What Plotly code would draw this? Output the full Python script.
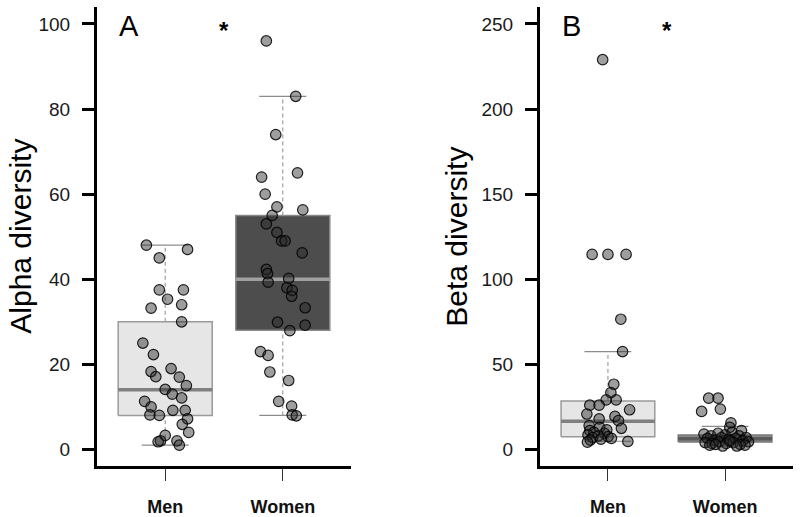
import plotly.graph_objects as go

groups = ["Men", "Women"]
group_pos = [1, 2]

# ---- Panel A: alpha diversity (jitter offset, value) ----
alpha_men_dx = [-0.16, 0.19, -0.05, -0.05, 0.155, 0.02, 0.14, -0.12, 0.14, -0.19, -0.10,
                0.05, -0.12, -0.08, 0.12, 0.18, 0.0, 0.06, 0.14, -0.175, -0.12, 0.065,
                0.17, -0.13, -0.05, 0.19, 0.145, 0.20, 0.0, -0.04, -0.06, 0.10, 0.12]
alpha_men_y = [48, 47, 45, 37.5, 37.5, 35.3, 34, 33.2, 30, 25, 22.3,
               19, 18.3, 17.1, 17, 15, 14.1, 13, 12.1, 11.3, 10, 9.2,
               9.2, 8.1, 8, 7.2, 5.9, 4, 3.3, 2, 1.8, 2, 1]
alpha_women_dx = [-0.14, 0.11, -0.06, 0.125, -0.18, -0.15, -0.05, 0.17, -0.09, -0.14, -0.05,
                  -0.01, 0.02, 0.165, -0.14, -0.13, -0.125, 0.05, 0.035, 0.08, 0.075, 0.19,
                  -0.045, 0.19, 0.06, -0.19, -0.125, -0.11, 0.05, -0.035, 0.075, 0.08, 0.115]
alpha_women_y = [96, 83, 74, 65, 64, 60, 57, 56.3, 55, 53, 51,
                 49, 49, 46.2, 42.3, 41.3, 39.3, 40.2, 38, 37.4, 36, 33.3,
                 29.9, 29.2, 27.9, 23, 22.1, 18.2, 16.2, 11.3, 10.2, 8.1, 7.9]

# ---- Panel B: beta diversity ----
beta_men_dx = [-0.045, -0.135, 0.0, 0.155, 0.11, 0.125, 0.05, 0.025, -0.015, 0.07, -0.155,
               -0.075, 0.185, -0.18, 0.06, -0.075, 0.09, -0.16, -0.07, 0.115, -0.01, -0.155,
               -0.12, -0.03, -0.17, -0.08, 0.0, -0.13, 0.03, -0.06, -0.15, 0.17, -0.175]
beta_men_y = [229, 114.6, 114.6, 114.6, 76.5, 57.5, 38.3, 33.4, 29.1, 29.1, 26,
              26, 23.3, 20.8, 19.4, 17.9, 16.9, 14, 13, 12.4, 11.5, 11.1,
              10, 9.5, 8.5, 8, 7.5, 7, 6.5, 6, 5.5, 4.7, 4.3]
beta_women_dx = [-0.14, -0.06, -0.2, -0.04, 0.05, 0.04, 0.14,
                 -0.18, -0.12, -0.06, 0.0, 0.06, 0.12, 0.18,
                 -0.15, -0.09, -0.03, 0.03, 0.09, 0.15, 0.2,
                 -0.17, -0.11, -0.05, 0.01, 0.07, 0.13, 0.17,
                 -0.13, -0.02, 0.1, -0.08, 0.04]
beta_women_y = [30.1, 30.1, 22.3, 23.7, 15.6, 13, 11.1,
                9, 8, 9.5, 8.5, 10, 8, 7,
                6.5, 5.5, 7, 6, 6.5, 5, 4.5,
                4, 3.5, 4.5, 3.5, 4, 3, 2.5,
                2.5, 2, 2, 3, 5]

# box summaries: [lower whisker, Q1, median, Q3, upper whisker]
alpha_men_box = [1, 8, 14, 30, 48]
alpha_women_box = [8, 28, 40, 55, 83]
beta_men_box = [4.8, 7.5, 16.5, 28.5, 57.5]
beta_women_box = [2, 4.3, 6.3, 8.5, 13.5]

alpha_ticks = [0, 20, 40, 60, 80, 100]
beta_ticks = [0, 50, 100, 150, 200, 250]

BOX_HALF = 0.4
CAP_HALF = 0.2

fig = go.Figure()


def add_box(xa, ya, c, stats, fill, border, medcol):
    lo, q1, med, q3, hi = stats
    common = dict(xaxis=xa, yaxis=ya, mode="lines", hoverinfo="skip", showlegend=False)
    fig.add_trace(go.Scatter(x=[c, c], y=[q3, hi], line=dict(color="#8c8c8c", width=1, dash="4px,3px"), **common))
    fig.add_trace(go.Scatter(x=[c, c], y=[lo, q1], line=dict(color="#8c8c8c", width=1, dash="4px,3px"), **common))
    fig.add_trace(go.Scatter(x=[c - CAP_HALF, c + CAP_HALF], y=[hi, hi], line=dict(color="#8c8c8c", width=1.2), **common))
    fig.add_trace(go.Scatter(x=[c - CAP_HALF, c + CAP_HALF], y=[lo, lo], line=dict(color="#8c8c8c", width=1.2), **common))
    fig.add_trace(go.Scatter(x=[c - BOX_HALF, c + BOX_HALF, c + BOX_HALF, c - BOX_HALF, c - BOX_HALF],
                             y=[q1, q1, q3, q3, q1], fill="toself", fillcolor=fill,
                             line=dict(color=border, width=1.5), **common))
    fig.add_trace(go.Scatter(x=[c - BOX_HALF, c + BOX_HALF], y=[med, med],
                             line=dict(color=medcol, width=3.5), **common))


def add_points(xa, ya, c, dx, y):
    fig.add_trace(go.Scatter(x=[c + d for d in dx], y=y, xaxis=xa, yaxis=ya, mode="markers",
                             marker=dict(size=10.5, color="rgba(40,40,40,0.45)",
                                         line=dict(color="rgba(0,0,0,0.85)", width=1.2)),
                             showlegend=False, hoverinfo="y"))


add_box("x", "y", group_pos[0], alpha_men_box, "#e6e6e6", "#9a9a9a", "#808080")
add_box("x", "y", group_pos[1], alpha_women_box, "#4d4d4d", "#8a8a8a", "#a0a0a0")
add_points("x", "y", group_pos[0], alpha_men_dx, alpha_men_y)
add_points("x", "y", group_pos[1], alpha_women_dx, alpha_women_y)

add_box("x2", "y2", group_pos[0], beta_men_box, "#e6e6e6", "#9a9a9a", "#808080")
add_box("x2", "y2", group_pos[1], beta_women_box, "#8a8a8a", "#7a7a7a", "#5a5a5a")
add_points("x2", "y2", group_pos[0], beta_men_dx, beta_men_y)
add_points("x2", "y2", group_pos[1], beta_women_dx, beta_women_y)

FONT = "Liberation Sans, Arial, sans-serif"
ydom = [46 / 517, 510 / 517]

xcommon = dict(range=[0.42, 2.58], tickvals=group_pos, ticktext=[f"<b>{g}</b>" for g in groups],
               ticks="outside", ticklen=12, tickwidth=1, tickcolor="#333333",
               showline=True, linewidth=3, linecolor="black", showgrid=False, zeroline=False,
               tickfont=dict(family=FONT, size=18, color="#111111"), ticklabelstandoff=10,
               fixedrange=True)
ycommon = dict(ticks="outside", ticklen=12, tickwidth=3, tickcolor="black",
               showline=True, linewidth=3, linecolor="black", showgrid=False, zeroline=False,
               tickfont=dict(family=FONT, size=19, color="#1a1a1a"), ticklabelstandoff=8,
               domain=ydom, fixedrange=True)

fig.update_layout(
    width=800, height=517,
    margin=dict(l=0, r=0, t=0, b=0),
    paper_bgcolor="white", plot_bgcolor="white",
    xaxis=dict(domain=[97 / 800, 351 / 800], anchor="y", **xcommon),
    yaxis=dict(range=[-4, 104], tickvals=alpha_ticks, anchor="x", **ycommon),
    xaxis2=dict(domain=[540 / 800, 793 / 800], anchor="y2", **xcommon),
    yaxis2=dict(range=[-10, 260], tickvals=beta_ticks, anchor="x2", **ycommon),
    showlegend=False,
)

ann = []
ann.append(dict(text="Alpha diversity", x=21 / 800, xref="paper", y=0.5, yref="y domain",
                textangle=-90, showarrow=False, font=dict(family=FONT, size=30, color="black"),
                xanchor="center", yanchor="middle"))
ann.append(dict(text="Beta diversity", x=457 / 800, xref="paper", y=0.5, yref="y2 domain",
                textangle=-90, showarrow=False, font=dict(family=FONT, size=30, color="black"),
                xanchor="center", yanchor="middle"))
ann.append(dict(text="A", x=0.69, xref="x", y=99.5, yref="y", showarrow=False,
                font=dict(family=FONT, size=29, color="black"), xanchor="center", yanchor="middle"))
ann.append(dict(text="B", x=0.69, xref="x2", y=248.8, yref="y2", showarrow=False,
                font=dict(family=FONT, size=29, color="black"), xanchor="center", yanchor="middle"))
ann.append(dict(text="<b>*</b>", x=1.5, xref="x", y=98.5, yref="y", showarrow=False,
                font=dict(family=FONT, size=24, color="black"), xanchor="center", yanchor="middle"))
ann.append(dict(text="<b>*</b>", x=1.5, xref="x2", y=246.2, yref="y2", showarrow=False,
                font=dict(family=FONT, size=24, color="black"), xanchor="center", yanchor="middle"))
fig.update_layout(annotations=ann)

fig.write_html("out.html", config={"displayModeBar": False},
               post_script="document.body.style.margin='0px';")
